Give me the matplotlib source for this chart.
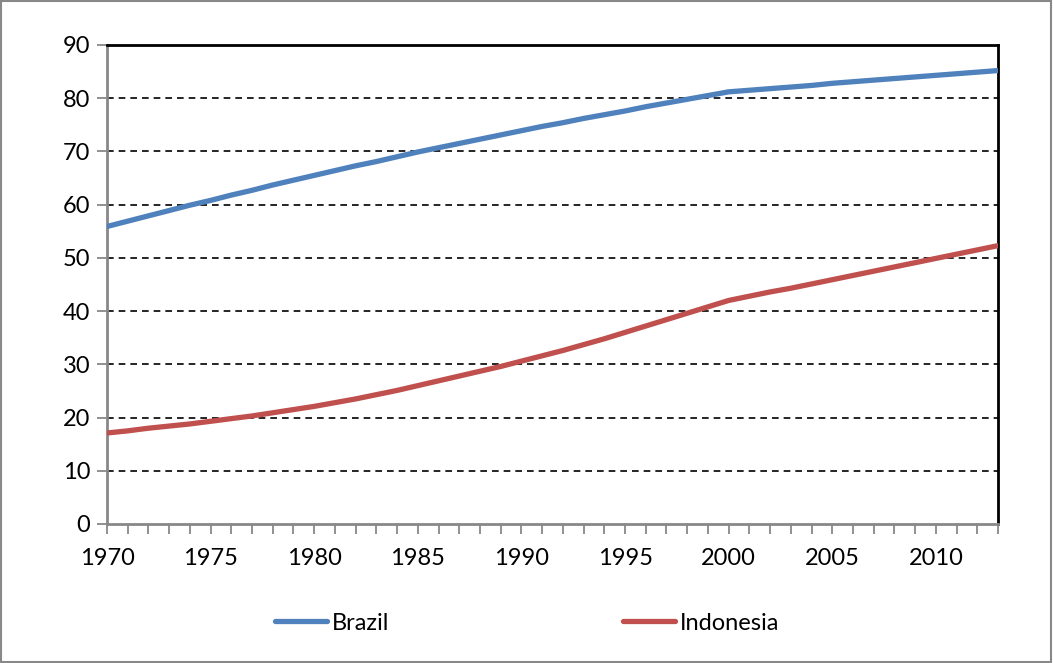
import matplotlib
matplotlib.use("Agg")
from matplotlib import pyplot as plt
from matplotlib.patches import Rectangle

years = list(range(1970, 2014))
brazil = [55.9, 56.9, 57.9, 58.9, 59.9, 60.8, 61.8, 62.7, 63.7, 64.6,
          65.5, 66.4, 67.3, 68.1, 69.0, 69.9, 70.7, 71.5, 72.3, 73.1,
          73.9, 74.7, 75.4, 76.2, 76.9, 77.6, 78.4, 79.1, 79.8, 80.5,
          81.2, 81.5, 81.8, 82.1, 82.4, 82.8, 83.1, 83.4, 83.7, 84.0,
          84.3, 84.6, 84.9, 85.2]
indonesia = [17.1, 17.5, 18.0, 18.4, 18.8, 19.3, 19.8, 20.3, 20.9, 21.5,
             22.1, 22.8, 23.5, 24.3, 25.1, 26.0, 26.9, 27.8, 28.7, 29.6,
             30.6, 31.6, 32.6, 33.7, 34.8, 36.0, 37.2, 38.4, 39.6, 40.8,
             42.0, 42.8, 43.6, 44.3, 45.1, 45.9, 46.7, 47.5, 48.3, 49.1,
             49.9, 50.7, 51.5, 52.3]
xtick_years = list(range(1970, 2011, 5))
ytick_vals = list(range(0, 91, 10))

plt.rcParams["font.family"] = ["Lato", "DejaVu Sans"]

fig = plt.figure(figsize=(10.53, 6.63), dpi=100)
ax = fig.add_axes([107/1053, 1-524/663, (998-107)/1053, (524-45)/663])

ax.plot(years, brazil, color="#4F81BD", linewidth=3.8, label="Brazil",
        solid_capstyle="round", zorder=3)
ax.plot(years, indonesia, color="#C0504D", linewidth=3.8, label="Indonesia",
        solid_capstyle="round", zorder=3)

ax.set_xlim(1970, 2013)
ax.set_ylim(0, 90)

# gridlines dashed black
for v in ytick_vals[1:-1]:
    ax.axhline(v, color="black", linestyle=(0, (4, 3)), linewidth=1.2, zorder=1)

ax.set_xticks(years)
ax.set_xticklabels([str(y) if y in xtick_years else "" for y in years])
ax.set_yticks(ytick_vals)
ax.tick_params(axis="both", direction="out", length=7, width=1.3,
               color="#888888", labelsize=17, pad=5)
ax.tick_params(axis="x", pad=10)

for s in ["left", "bottom"]:
    ax.spines[s].set_color("#888888")
    ax.spines[s].set_linewidth(2)
for s in ["top", "right"]:
    ax.spines[s].set_color("black")
    ax.spines[s].set_linewidth(2)

fig.legend(loc="center", bbox_to_anchor=(527/1053, 1-623/663), ncol=2,
           frameon=False, fontsize=17, handlelength=2.2, handletextpad=0.2,
           columnspacing=9.9)

fig.patches.append(Rectangle((0.001, 0.002), 0.997, 0.996, transform=fig.transFigure,
                             fill=False, edgecolor="#888888", linewidth=1.5))

plt.savefig("out.png", dpi=100)
